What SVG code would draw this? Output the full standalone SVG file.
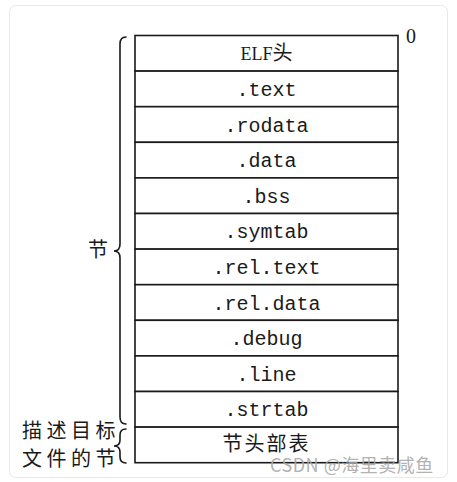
<svg xmlns="http://www.w3.org/2000/svg" width="457" height="482" viewBox="0 0 457 482">
<style>
.cell{fill:#fff;stroke:#1a1a1a;stroke-width:1.6}
.mono{font-family:"Liberation Mono","DejaVu Sans Mono",monospace;font-size:20px;fill:#1a1a1a;text-anchor:middle}
.cjk{font-family:"Noto Sans CJK SC","Noto Sans",sans-serif;font-size:20px;fill:#1a1a1a}
.serif{font-family:"Liberation Serif","Noto Sans CJK SC",serif;fill:#1a1a1a}
.brace{fill:none;stroke:#1a1a1a;stroke-width:1.6;stroke-linecap:round}
</style>
<rect x="9.5" y="5.5" width="438" height="472" rx="6" fill="#fff" stroke="#e8e8e8"/>
<g id="table">
<g id="elf-header"><rect class="cell" x="135" y="35.5" width="263" height="35.6"/><text x="266.5" y="60" text-anchor="middle"><tspan class="serif" font-size="18">ELF</tspan><tspan class="cjk" font-size="18">头</tspan></text></g>
<g id="text"><rect class="cell" x="135" y="71.1" width="263" height="35.6"/><text class="mono" x="266.5" y="96">.text</text></g>
<g id="rodata"><rect class="cell" x="135" y="106.7" width="263" height="35.6"/><text class="mono" x="266.5" y="131.6">.rodata</text></g>
<g id="data"><rect class="cell" x="135" y="142.3" width="263" height="35.6"/><text class="mono" x="266.5" y="167.2">.data</text></g>
<g id="bss"><rect class="cell" x="135" y="177.9" width="263" height="35.6"/><text class="mono" x="266.5" y="202.8">.bss</text></g>
<g id="symtab"><rect class="cell" x="135" y="213.5" width="263" height="35.6"/><text class="mono" x="266.5" y="238.4">.symtab</text></g>
<g id="rel-text"><rect class="cell" x="135" y="249.1" width="263" height="35.6"/><text class="mono" x="266.5" y="274">.rel.text</text></g>
<g id="rel-data"><rect class="cell" x="135" y="284.7" width="263" height="35.6"/><text class="mono" x="266.5" y="309.6">.rel.data</text></g>
<g id="debug"><rect class="cell" x="135" y="320.3" width="263" height="35.6"/><text class="mono" x="266.5" y="345.2">.debug</text></g>
<g id="line"><rect class="cell" x="135" y="355.9" width="263" height="35.6"/><text class="mono" x="266.5" y="380.8">.line</text></g>
<g id="strtab"><rect class="cell" x="135" y="391.5" width="263" height="35.6"/><text class="mono" x="266.5" y="416.4">.strtab</text></g>
<g id="section-header-table"><rect class="cell" x="135" y="427.1" width="263" height="35.6"/><text class="cjk" x="266.5" y="451" text-anchor="middle" font-size="19" letter-spacing="2">节头部表</text></g>
</g>
<g id="offset-zero"><text class="serif" x="406" y="43" font-size="20">0</text></g>
<g id="connectors">
<path class="brace" d="M126,37 Q120,37 120,44 L120,244 Q120,251 114,251 Q120,251 120,258 L120,417 Q120,424 126,424"/>
<path class="brace" d="M126,429 Q120,429 120,435 L120,440 Q120,446 114,446 Q120,446 120,452 L120,457 Q120,463 126,463"/>
</g>
<g id="label-sections"><text class="cjk" x="88" y="257" font-size="17">节</text></g>
<g id="label-describe"><text class="cjk" x="22" y="438" font-size="16.5" letter-spacing="4.5">描述目标</text><text class="cjk" x="22" y="465.5" font-size="16.5" letter-spacing="4.5">文件的节</text></g>
<text x="270" y="472" font-family="Noto Sans CJK SC,Noto Sans,sans-serif" font-size="18" letter-spacing="0.5" fill="#a8a8a8" fill-opacity="0.9">CSDN @海里卖咸鱼</text>
</svg>
